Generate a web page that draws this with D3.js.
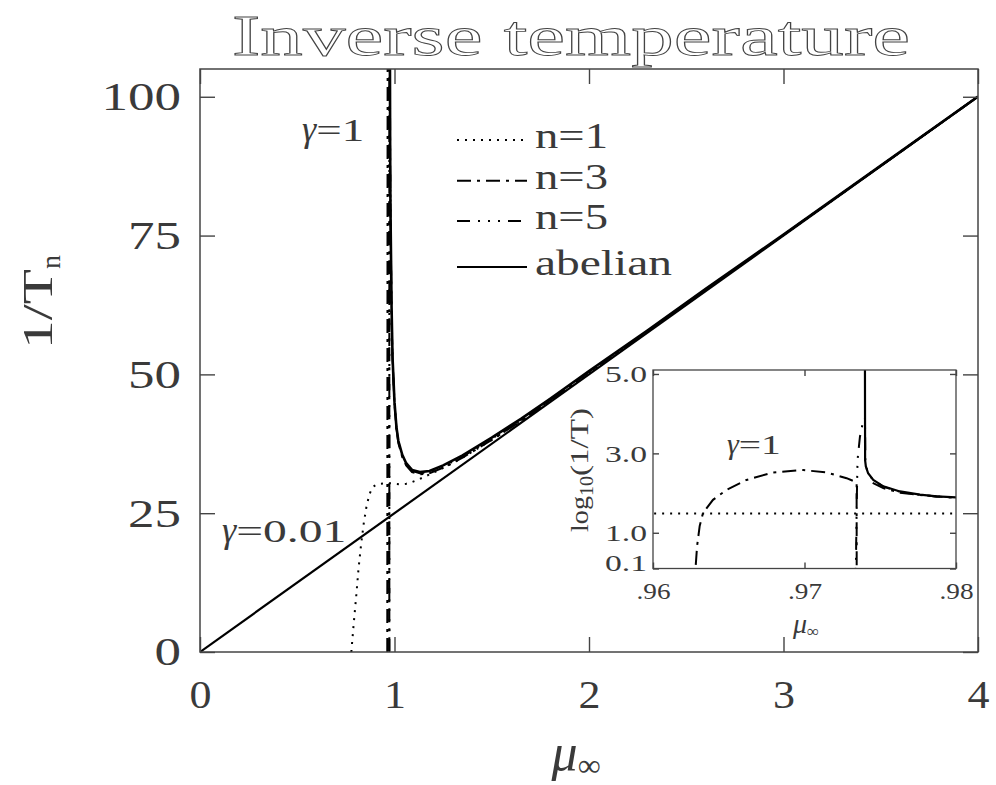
<!DOCTYPE html>
<html>
<head>
<meta charset="utf-8">
<script src="https://cdn.jsdelivr.net/npm/d3@7"></script>
<style>
  body { margin: 0; background: #fff; }
  text { font-family: "Liberation Serif", serif; fill: #3a3a3a; }
</style>
</head>
<body>
<svg id="chart" width="996" height="785"></svg>
<script>
// ---- data (mu_inf, 1/T); null breaks a curve ----
const xTicks = [0, 1, 2, 3, 4];
const yTicks = [0, 25, 50, 75, 100];
const insetXTicks = [0.96, 0.97, 0.98];
const insetXLabels = ['.96', '.97', '.98'];
const insetYTicks = [0.1, 1, 3, 5];
const insetYLabels = ['0.1', '1.0', '3.0', '5.0'];

// straight abelian line
const lineMu = [0, 4];
const lineInvT = [0, 100];

// n=1 (dotted)
const n1Mu = [0.778, 0.790, 0.803, 0.815, 0.829, 0.842, 0.855, 0.870, 0.887, 0.91, 0.93, 0.96, 0.97, 0.98, 1.0, 1.03, 1.06, 1.09, 1.12, 1.15, 1.2, 1.27, 1.35, 1.5, 1.65, 1.8, 2.0, 2.3, 2.6, 3.0, 3.5, 4.0];
const n1InvT = [0, 5, 10, 15, 19.6, 23.2, 26, 28.3, 29.7, 30.2, 30.3, 30.4, 30.4, 30.4, 30.3, 30.2, 30.3, 30.6, 31.0, 31.5, 32.3, 33.5, 35.0, 38.2, 41.6, 45.2, 50.3, 57.7, 65.2, 75.1, 87.55, 100.02];

// n=3 (dash-dot)
const n3Mu = [0.96280, 0.96282, 0.96291, 0.96308, 0.9633, 0.96396, 0.96485, 0.96617, 0.96793, 0.96991, 0.97145, 0.97278, 0.97344, 0.97345, null,
              0.9745, 0.9752, 0.9763, 0.9776, 0.9787, 0.98, 0.985, 0.99, 1.0, 1.01, 1.02, 1.04, 1.06, 1.09, 1.13, 1.18, 1.25, 1.35, 1.5, 1.65, 1.8, 2.0, 2.3, 2.6, 3.0, 3.5, 4.0];
const n3InvT = [0, 1.5, 4.6, 14.7, 31.6, 67.6, 120, 214, 331, 380, 331, 237, 186, 0, null,
                180, 133, 102, 89, 82, 76.5, 61, 52.5, 44.6, 40.1, 37.6, 35.1, 33.6, 32.4, 32.0, 32.2, 33.2, 35.0, 38.2, 41.6, 45.3, 50.4, 57.7, 65.2, 75.1, 87.55, 100.02];

// n=5 (dash-dot-dot)
const n5Mu = [0.97337, 0.97339, 0.97344, 0.9735, 0.97366, 0.97388, 0.97399, 0.97402, 0.97407, 0.9742, 0.97454, 0.9752, 0.9763, 0.9776, 0.9787, 0.98, 0.985, 0.99, 1.0, 1.01, 1.02, 1.04, 1.06, 1.09, 1.13, 1.18, 1.25, 1.35, 1.5, 1.65, 1.8, 2.0, 2.3, 2.6, 3.0, 3.5, 4.0];
const n5InvT = [0, 1.26, 38, 676, 2630, 6760, 8000, 600, 460, 310, 210, 145, 108, 90, 82.5, 77, 61.5, 52.8, 44.8, 40.3, 37.8, 35.3, 33.8, 32.6, 32.2, 32.4, 33.4, 35.2, 38.4, 41.8, 45.4, 50.5, 57.8, 65.3, 75.15, 87.57, 100.03];

// abelian, gamma=1 (solid)
const abMu = [0.97399, 0.97400, 0.97405, 0.9742, 0.97454, 0.9752, 0.9763, 0.97762, 0.97872, 0.98, 0.985, 0.99, 1.0, 1.01, 1.02, 1.04, 1.06, 1.09, 1.13, 1.18, 1.25, 1.35, 1.5, 1.65, 1.8, 2.0, 2.3, 2.6, 3.0, 3.5, 4.0];
const abInvT = [158000, 676, 468, 316, 214, 148, 110, 91, 83, 77.6, 62, 53, 45, 40.5, 38, 35.5, 34, 32.8, 32.4, 32.6, 33.6, 35.4, 38.6, 42, 45.6, 50.6, 57.9, 65.4, 75.2, 87.6, 100.05];

const legendLabels = ['n=1', 'n=3', 'n=5', 'abelian'];

// ---- layout ----
const svg = d3.select('#chart');
const frame = { left: 200, right: 978, top: 69, bottom: 652 };
const inset = { left: 653, right: 956, top: 370, bottom: 568.5 };

const styles = {
    dot:    { dash: '2,6', width: 2 },
    dashdot:{ dash: '14,6,3,6', width: 2 },
    dash3:  { dash: '13,8,2,8,2,8,2,8', width: 2 },
    solid:  { dash: null, width: 2.6 }
};

const series = [
    { mu: n1Mu, v: n1InvT, s: styles.dot },
    { mu: n3Mu, v: n3InvT, s: styles.dashdot },
    { mu: n5Mu, v: n5InvT, s: styles.dash3 },
    { mu: abMu, v: abInvT, s: styles.solid },
    { mu: lineMu, v: lineInvT, s: { dash: null, width: 2.2 } }
];
const toPts = sr => sr.mu.map((m, i) => [m, sr.v[i]]);

function stretch(sel, w) { sel.attr('textLength', w).attr('lengthAdjust', 'spacingAndGlyphs'); }

// ---- main plot ----
const x = d3.scaleLinear().domain([0, 4]).range([frame.left, frame.right]);
const y = d3.scaleLinear().domain([0, 105]).range([frame.bottom, frame.top]);

svg.append('clipPath').attr('id', 'clipMain').append('rect')
    .attr('x', frame.left).attr('y', frame.top)
    .attr('width', frame.right - frame.left).attr('height', frame.bottom - frame.top);

const line = d3.line()
    .defined(d => d[0] != null)
    .x(d => x(d[0]))
    .y(d => y(Math.min(d[1], 2000)));

const gMain = svg.append('g').attr('clip-path', 'url(#clipMain)');
series.forEach(sr => {
    gMain.append('path').datum(toPts(sr))
        .attr('d', line).attr('fill', 'none').attr('stroke', '#000')
        .attr('stroke-width', sr.s.width)
        .attr('stroke-dasharray', sr.s.dash);
});

// axes (inward ticks on all four sides)
function styleAxis(g) {
    g.select('.domain').remove();
    g.selectAll('line').attr('stroke', '#444').attr('stroke-width', 1.4);
}
function styleText(sel, size) {
    sel.attr('font-size', size).style('font-family', '"Liberation Serif", serif').attr('fill', '#3a3a3a');
}
const axB = svg.append('g').attr('transform', `translate(0,${frame.bottom})`)
    .call(d3.axisBottom(x).tickValues(xTicks).tickSize(-15).tickSizeOuter(0).tickPadding(28).tickFormat(d3.format('d')));
axB.selectAll('text').call(styleText, 40)
    .each(function() { stretch(d3.select(this), 22 * this.textContent.length); });
styleAxis(axB);

const axT = svg.append('g').attr('transform', `translate(0,${frame.top})`)
    .call(d3.axisTop(x).tickValues(xTicks).tickSize(-15).tickSizeOuter(0).tickFormat(''));
styleAxis(axT);

const axL = svg.append('g').attr('transform', `translate(${frame.left},0)`)
    .call(d3.axisLeft(y).tickValues(yTicks).tickSize(-15).tickSizeOuter(0).tickPadding(19).tickFormat(d3.format('d')));
axL.selectAll('text').call(styleText, 40)
    .each(function() { stretch(d3.select(this), 26.5 * this.textContent.length); });
styleAxis(axL);

const axR = svg.append('g').attr('transform', `translate(${frame.right},0)`)
    .call(d3.axisRight(y).tickValues(yTicks).tickSize(-15).tickSizeOuter(0).tickFormat(''));
styleAxis(axR);

svg.append('rect').attr('x', frame.left).attr('y', frame.top)
    .attr('width', frame.right - frame.left).attr('height', frame.bottom - frame.top)
    .attr('fill', 'none').attr('stroke', '#444').attr('stroke-width', 1.5);

// title: thin outlined letters, like the stroked plot font
svg.append('text').attr('x', 571).attr('y', 55).attr('text-anchor', 'middle')
    .attr('font-size', 58).style('fill', 'none').attr('stroke', '#444').attr('stroke-width', 0.9)
    .text('Inverse temperature').call(stretch, 678);

// axis titles
const xt = svg.append('text').attr('x', 576).attr('y', 770).attr('text-anchor', 'middle');
xt.append('tspan').attr('font-size', 52).attr('font-style', 'italic').text('μ');
xt.append('tspan').attr('font-size', 32).attr('dy', 6).text('∞');

const yt = svg.append('text').attr('transform', 'translate(52,302) rotate(-90)').attr('text-anchor', 'middle');
yt.append('tspan').attr('font-size', 42).text('1/T').call(stretch, 80);
yt.append('tspan').attr('font-size', 28).attr('dy', 8).text('n');

// annotations
const g1 = svg.append('text').attr('x', 302).attr('y', 141);
g1.append('tspan').attr('font-size', 36).attr('font-style', 'italic').text('γ');
g1.append('tspan').attr('font-size', 32).text('=1').call(stretch, 48);

const g2 = svg.append('text').attr('x', 222).attr('y', 542);
g2.append('tspan').attr('font-size', 36).attr('font-style', 'italic').text('γ');
g2.append('tspan').attr('font-size', 32).text('=0.01').call(stretch, 110);

// legend
const legYs = [140, 180.7, 221, 267];
[styles.dot, styles.dashdot, styles.dash3, styles.solid].forEach((s, i) => {
    svg.append('line').attr('x1', 457).attr('x2', 527).attr('y1', legYs[i]).attr('y2', legYs[i])
        .attr('stroke', '#000').attr('stroke-width', 2).attr('stroke-dasharray', s.dash);
    svg.append('text').attr('x', 535).attr('y', legYs[i] + 8).attr('font-size', 36)
        .text(legendLabels[i]).call(stretch, legendLabels[i] === 'abelian' ? 137 : 73);
});

// ---- inset ----
const xi = d3.scaleLinear().domain([0.96, 0.98]).range([inset.left, inset.right]);
const yi = d3.scaleLinear().domain([0.1, 5.1]).range([inset.bottom, inset.top]);

svg.append('rect').attr('x', inset.left).attr('y', inset.top)
    .attr('width', inset.right - inset.left).attr('height', inset.bottom - inset.top)
    .attr('fill', '#fff');

svg.append('clipPath').attr('id', 'clipInset').append('rect')
    .attr('x', inset.left).attr('y', inset.top)
    .attr('width', inset.right - inset.left).attr('height', inset.bottom - inset.top);

const lineI = d3.line()
    .defined(d => d[0] != null)
    .x(d => xi(Math.max(0.9, d[0])))
    .y(d => yi(Math.log10(Math.max(d[1], 0.01))));

const gIn = svg.append('g').attr('clip-path', 'url(#clipInset)');
series.forEach(sr => {
    gIn.append('path').datum(toPts(sr))
        .attr('d', lineI).attr('fill', 'none').attr('stroke', '#000')
        .attr('stroke-width', Math.min(sr.s.width, 2.2))
        .attr('stroke-dasharray', sr.s.dash);
});

const aiB = svg.append('g').attr('transform', `translate(0,${inset.bottom})`)
    .call(d3.axisBottom(xi).tickValues(insetXTicks).tickSize(-6).tickSizeOuter(0).tickPadding(13).tickFormat((d, i) => insetXLabels[i]));
aiB.selectAll('text').call(styleText, 24).call(stretch, 34);
styleAxis(aiB);
const aiT = svg.append('g').attr('transform', `translate(0,${inset.top})`)
    .call(d3.axisTop(xi).tickValues(insetXTicks).tickSize(-6).tickSizeOuter(0).tickFormat(''));
styleAxis(aiT);
const aiL = svg.append('g').attr('transform', `translate(${inset.left},0)`)
    .call(d3.axisLeft(yi).tickValues(insetYTicks).tickSize(-6).tickSizeOuter(0).tickPadding(6).tickFormat((d, i) => insetYLabels[i]));
aiL.selectAll('text').call(styleText, 24).call(stretch, 42);
aiL.selectAll('.tick').filter(d => d === 0.1).select('text').attr('dy', '0.1em');
styleAxis(aiL);
const aiR = svg.append('g').attr('transform', `translate(${inset.right},0)`)
    .call(d3.axisRight(yi).tickValues(insetYTicks).tickSize(-6).tickSizeOuter(0).tickFormat(''));
styleAxis(aiR);

svg.append('rect').attr('x', inset.left).attr('y', inset.top)
    .attr('width', inset.right - inset.left).attr('height', inset.bottom - inset.top)
    .attr('fill', 'none').attr('stroke', '#444').attr('stroke-width', 1.3);

const xti = svg.append('text').attr('x', 806).attr('y', 633).attr('text-anchor', 'middle');
xti.append('tspan').attr('font-size', 28).attr('font-style', 'italic').text('μ');
xti.append('tspan').attr('font-size', 17).attr('dy', 4).text('∞');

const yti = svg.append('text').attr('transform', 'translate(588,470) rotate(-90)').attr('text-anchor', 'middle');
yti.append('tspan').attr('font-size', 26).text('log').call(stretch, 36);
yti.append('tspan').attr('font-size', 18).attr('dy', 5).text('10').call(stretch, 20);
yti.append('tspan').attr('font-size', 26).attr('dy', -5).text('(1/T)').call(stretch, 68);

const gi = svg.append('text').attr('x', 727).attr('y', 454);
gi.append('tspan').attr('font-size', 30).attr('font-style', 'italic').text('γ');
gi.append('tspan').attr('font-size', 27).text('=1').call(stretch, 42);
</script>
</body>
</html>
